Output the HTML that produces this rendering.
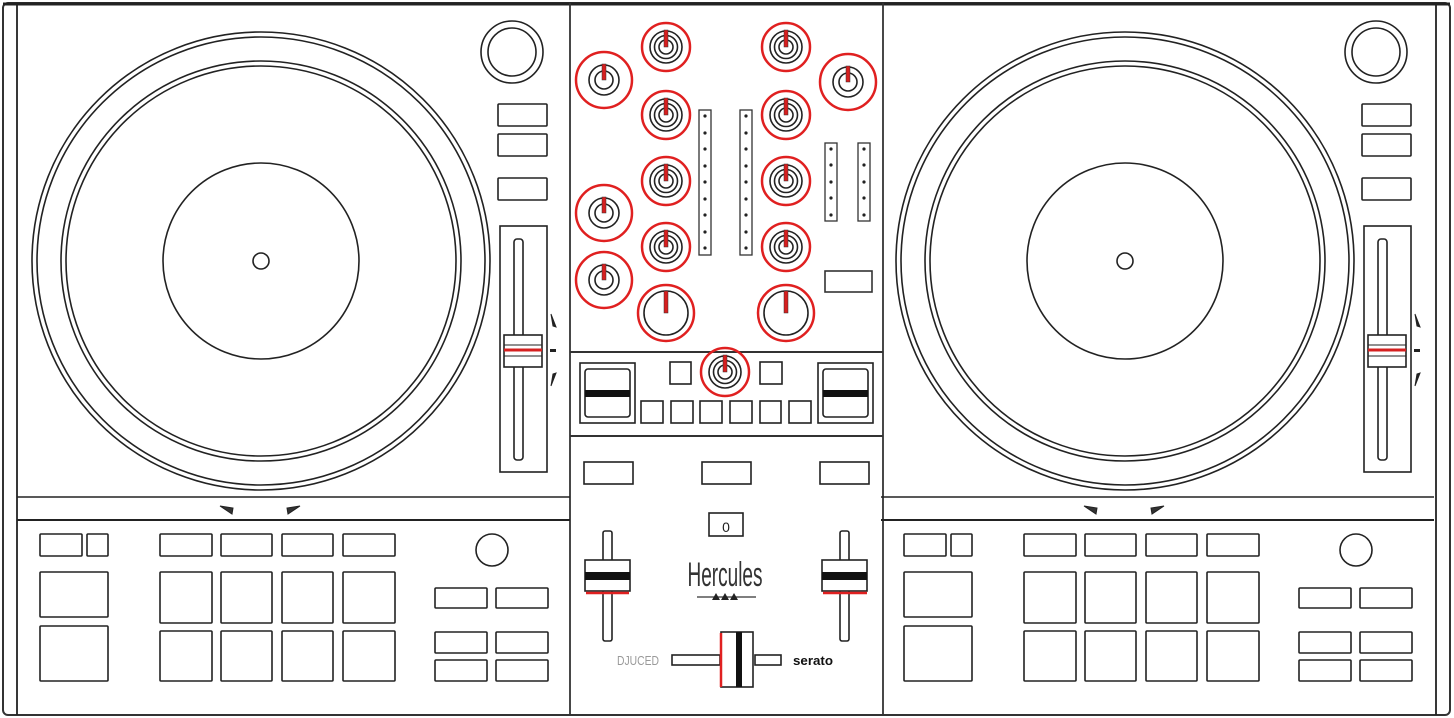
<!DOCTYPE html>
<html><head><meta charset="utf-8"><style>html,body{margin:0;padding:0;background:#fff}svg{display:block}</style></head><body>
<svg width="1454" height="718" viewBox="0 0 1454 718" xmlns="http://www.w3.org/2000/svg" font-family="Liberation Sans, sans-serif">
<defs>
<g id="deck" fill="none" stroke="#222" stroke-width="1.6">
  <circle cx="261" cy="261" r="229"/>
  <circle cx="261" cy="261" r="224"/>
  <circle cx="261" cy="261" r="200"/>
  <circle cx="261" cy="261" r="195"/>
  <circle cx="261" cy="261" r="98"/>
  <circle cx="261" cy="261" r="8"/>
  <circle cx="512" cy="52" r="31"/>
  <circle cx="512" cy="52" r="24"/>
  <rect x="498" y="104" width="49" height="22" rx="1"/>
  <rect x="498" y="134" width="49" height="22" rx="1"/>
  <rect x="498" y="178" width="49" height="22" rx="1"/>
  <rect x="500" y="226" width="47" height="246"/>
  <rect x="514" y="239" width="9" height="221" rx="3"/>
  <rect x="504" y="335" width="38" height="32" fill="#fff"/>
  <line x1="504" y1="350" x2="542" y2="350" stroke="#d62020" stroke-width="3"/>
  <line x1="504" y1="345" x2="542" y2="345" stroke-width="1"/>
  <line x1="504" y1="356" x2="542" y2="356" stroke-width="1"/>
  <path d="M551 314 L556 327 L553 326 Z" fill="#222" stroke-width="1"/>
  <rect x="550" y="349" width="6" height="3" fill="#222" stroke="none"/>
  <path d="M551 386 L556 373 L553 374 Z" fill="#222" stroke-width="1"/>
  <line x1="17" y1="497" x2="570" y2="497"/>
  <line x1="17" y1="520" x2="570" y2="520" stroke-width="2"/>
  <path d="M220 506 L233 508 L232 514 Z" fill="#333" stroke-width="1"/>
  <path d="M300 506 L287 508 L288 514 Z" fill="#333" stroke-width="1"/>
  <rect x="40" y="534" width="42" height="22" rx="1"/>
  <rect x="87" y="534" width="21" height="22" rx="1"/>
  <rect x="160" y="534" width="52" height="22" rx="1"/>
  <rect x="221" y="534" width="51" height="22" rx="1"/>
  <rect x="282" y="534" width="51" height="22" rx="1"/>
  <rect x="343" y="534" width="52" height="22" rx="1"/>
  <rect x="40" y="572" width="68" height="45" rx="1"/>
  <rect x="40" y="626" width="68" height="55" rx="1"/>
  <rect x="160" y="572" width="52" height="51" rx="1"/>
  <rect x="221" y="572" width="51" height="51" rx="1"/>
  <rect x="282" y="572" width="51" height="51" rx="1"/>
  <rect x="343" y="572" width="52" height="51" rx="1"/>
  <rect x="160" y="631" width="52" height="50" rx="1"/>
  <rect x="221" y="631" width="51" height="50" rx="1"/>
  <rect x="282" y="631" width="51" height="50" rx="1"/>
  <rect x="343" y="631" width="52" height="50" rx="1"/>
  <circle cx="492" cy="550" r="16"/>
  <rect x="435" y="588" width="52" height="20" rx="1"/>
  <rect x="496" y="588" width="52" height="20" rx="1"/>
  <rect x="435" y="632" width="52" height="21" rx="1"/>
  <rect x="496" y="632" width="52" height="21" rx="1"/>
  <rect x="435" y="660" width="52" height="21" rx="1"/>
  <rect x="496" y="660" width="52" height="21" rx="1"/>
</g>
<g id="k3">
  <circle r="24" fill="none" stroke="#e02020" stroke-width="2.5"/>
  <circle r="16" fill="none" stroke="#222" stroke-width="1.6"/>
  <circle r="11.5" fill="none" stroke="#222" stroke-width="1.6"/>
  <circle r="7" fill="none" stroke="#222" stroke-width="1.6"/>
  <rect x="-2" y="-17" width="4" height="17" fill="#d61f1f" stroke="#333" stroke-width="0.5"/>
</g>
<g id="k2">
  <circle r="28" fill="none" stroke="#e02020" stroke-width="2.5"/>
  <circle r="15" fill="none" stroke="#222" stroke-width="1.6"/>
  <circle r="9" fill="none" stroke="#222" stroke-width="1.6"/>
  <rect x="-2" y="-16" width="4" height="16" fill="#d61f1f" stroke="#333" stroke-width="0.5"/>
</g>
<g id="kb">
  <circle r="28" fill="none" stroke="#e02020" stroke-width="2.5"/>
  <circle r="22" fill="none" stroke="#222" stroke-width="1.6"/>
  <rect x="-2" y="-22" width="4" height="22" fill="#d61f1f" stroke="#333" stroke-width="0.5"/>
</g>
<g id="vu9" fill="none" stroke="#333" stroke-width="1.3">
  <rect x="0" y="0" width="12" height="145"/>
  <g fill="#222" stroke="none">
    <circle cx="6" cy="6" r="1.6"/><circle cx="6" cy="23" r="1.6"/><circle cx="6" cy="39" r="1.6"/><circle cx="6" cy="56" r="1.6"/><circle cx="6" cy="72" r="1.6"/><circle cx="6" cy="89" r="1.6"/><circle cx="6" cy="105" r="1.6"/><circle cx="6" cy="122" r="1.6"/><circle cx="6" cy="138" r="1.6"/>
  </g>
</g>
<g id="vu5" fill="none" stroke="#333" stroke-width="1.3">
  <rect x="0" y="0" width="12" height="78"/>
  <g fill="#222" stroke="none">
    <circle cx="6" cy="6" r="1.6"/><circle cx="6" cy="22" r="1.6"/><circle cx="6" cy="39" r="1.6"/><circle cx="6" cy="55" r="1.6"/><circle cx="6" cy="72" r="1.6"/>
  </g>
</g>
</defs>

<rect x="3" y="3" width="1447" height="712" rx="5" fill="none" stroke="#333" stroke-width="2"/>
<line x1="17" y1="3" x2="17" y2="715" stroke="#222" stroke-width="1.8"/>
<line x1="1436" y1="3" x2="1436" y2="715" stroke="#222" stroke-width="1.8"/>
<line x1="3" y1="4" x2="1450" y2="4" stroke="#222" stroke-width="3"/>
<line x1="570" y1="3" x2="570" y2="715" stroke="#333" stroke-width="1.8"/>
<line x1="883" y1="3" x2="883" y2="715" stroke="#333" stroke-width="1.8"/>

<use href="#deck"/>
<use href="#deck" transform="translate(864,0)"/>

<use href="#k2" x="604" y="80"/>
<use href="#k2" x="604" y="213"/>
<use href="#k2" x="604" y="280"/>
<use href="#k3" x="666" y="47"/>
<use href="#k3" x="666" y="115"/>
<use href="#k3" x="666" y="181"/>
<use href="#k3" x="666" y="247"/>
<use href="#kb" x="666" y="313"/>
<use href="#k3" x="786" y="47"/>
<use href="#k3" x="786" y="115"/>
<use href="#k3" x="786" y="181"/>
<use href="#k3" x="786" y="247"/>
<use href="#kb" x="786" y="313"/>
<use href="#k2" x="848" y="82"/>
<use href="#vu9" x="699" y="110"/>
<use href="#vu9" x="740" y="110"/>
<use href="#vu5" x="825" y="143"/>
<use href="#vu5" x="858" y="143"/>
<rect x="825" y="271" width="47" height="21" fill="none" stroke="#333" stroke-width="1.6"/>

<line x1="570" y1="352" x2="883" y2="352" stroke="#333" stroke-width="2"/>
<line x1="570" y1="436" x2="883" y2="436" stroke="#333" stroke-width="2"/>
<g fill="none" stroke="#222" stroke-width="1.6">
  <rect x="580" y="363" width="55" height="60"/>
  <rect x="585" y="369" width="45" height="48" rx="3"/>
  <rect x="818" y="363" width="55" height="60"/>
  <rect x="823" y="369" width="45" height="48" rx="3"/>
  <rect x="670" y="362" width="21" height="22"/>
  <rect x="760" y="362" width="22" height="22"/>
  <rect x="641" y="401" width="22" height="22"/>
  <rect x="671" y="401" width="22" height="22"/>
  <rect x="700" y="401" width="22" height="22"/>
  <rect x="730" y="401" width="22" height="22"/>
  <rect x="760" y="401" width="21" height="22"/>
  <rect x="789" y="401" width="22" height="22"/>
</g>
<rect x="585" y="390" width="45" height="7" fill="#111"/>
<rect x="823" y="390" width="45" height="7" fill="#111"/>
<use href="#k3" x="725" y="372"/>

<g fill="none" stroke="#222" stroke-width="1.6">
  <rect x="584" y="462" width="49" height="22"/>
  <rect x="702" y="462" width="49" height="22"/>
  <rect x="820" y="462" width="49" height="22"/>
  <rect x="709" y="513" width="34" height="23"/>
  <rect x="603" y="531" width="9" height="110" rx="2"/>
  <rect x="840" y="531" width="9" height="110" rx="2"/>
  <rect x="672" y="655" width="48" height="10"/>
  <rect x="755" y="655" width="26" height="10"/>
</g>
<text x="726" y="532" font-size="14" text-anchor="middle" fill="#222">0</text>
<rect x="585" y="560" width="45" height="31" fill="#fff" stroke="#222" stroke-width="1.6"/>
<rect x="585" y="572" width="45" height="8" fill="#111"/>
<line x1="586" y1="593" x2="629" y2="593" stroke="#e02020" stroke-width="2.5"/>
<rect x="822" y="560" width="45" height="31" fill="#fff" stroke="#222" stroke-width="1.6"/>
<rect x="822" y="572" width="45" height="8" fill="#111"/>
<line x1="823" y1="593" x2="867" y2="593" stroke="#e02020" stroke-width="2.5"/>
<rect x="721" y="632" width="32" height="55" fill="#fff" stroke="#222" stroke-width="1.6"/>
<rect x="736" y="632" width="6" height="55" fill="#111"/>
<line x1="721" y1="633" x2="721" y2="687" stroke="#e02020" stroke-width="2.5"/>
<text x="725" y="586" font-size="34" text-anchor="middle" textLength="75" lengthAdjust="spacingAndGlyphs" fill="#333" font-family="Liberation Sans Narrow, Liberation Sans, sans-serif">Hercules</text>
<line x1="697" y1="597" x2="756" y2="597" stroke="#333" stroke-width="1.2"/>
<path d="M712 600 L716 593 L720 600 Z M721 600 L725 593 L729 600 Z M730 600 L734 593 L738 600 Z" fill="#222"/>
<text x="638" y="665" font-size="13" text-anchor="middle" textLength="42" lengthAdjust="spacingAndGlyphs" fill="#999">DJUCED</text>
<text x="813" y="665" font-size="13" font-weight="bold" text-anchor="middle" textLength="40" lengthAdjust="spacingAndGlyphs" fill="#111">serato</text>
</svg>
</body></html>
